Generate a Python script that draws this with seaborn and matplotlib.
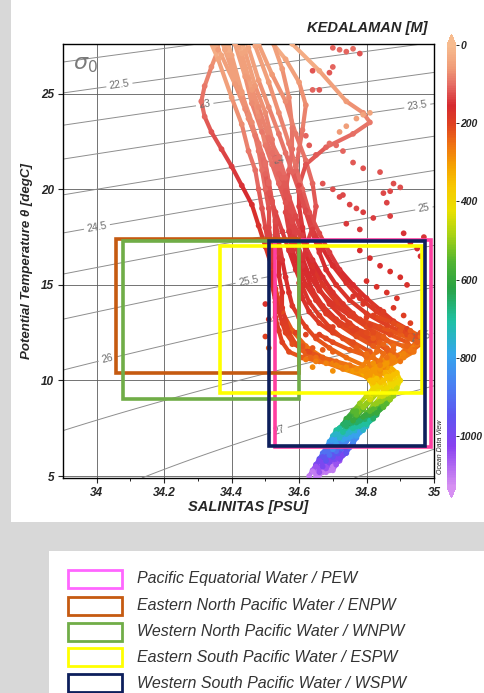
import numpy as np
import pandas as pd
import matplotlib
matplotlib.use("Agg")
import matplotlib.pyplot as plt
from matplotlib.colors import LinearSegmentedColormap, Normalize
from matplotlib.collections import LineCollection
from matplotlib.patches import Rectangle
from matplotlib.cm import ScalarMappable
import seaborn as sns

# ---------------------------------------------------------------- data
# standard sampling depths (m) of the upper casts
upper_depth = [0, 20, 40, 60, 75, 90, 100, 110, 120, 130, 140, 150, 160, 170,
               180, 190, 200, 215, 230, 250, 270, 300]

upper_sal = [
    [34.35, 34.35, 34.36, 34.36, 34.34, 34.32, 34.31, 34.32, 34.34, 34.37, 34.40,
     34.43, 34.46, 34.48, 34.50, 34.52, 34.53, 34.55, 34.58, 34.62, 34.67, 34.74],
    [34.37, 34.38, 34.40, 34.43, 34.45, 34.48, 34.50, 34.51, 34.52, 34.53, 34.54,
     34.55, 34.56, 34.57, 34.58, 34.60, 34.62, 34.65, 34.69, 34.74, 34.79, 34.83],
    [34.41, 34.42, 34.44, 34.47, 34.50, 34.52, 34.53, 34.55, 34.57, 34.59, 34.61,
     34.62, 34.64, 34.66, 34.69, 34.73, 34.77, 34.82, 34.86, 34.87, 34.86, 34.84],
    [34.46, 34.50, 34.56, 34.60, 34.62, 34.61, 34.60, 34.59, 34.60, 34.62, 34.64,
     34.66, 34.68, 34.71, 34.75, 34.80, 34.86, 34.92, 34.95, 34.92, 34.88, 34.84],
    [34.43, 34.45, 34.48, 34.52, 34.56, 34.59, 34.62, 34.64, 34.65, 34.64, 34.62,
     34.61, 34.60, 34.61, 34.63, 34.66, 34.70, 34.76, 34.81, 34.83, 34.82, 34.81],
    [34.52, 34.58, 34.66, 34.74, 34.79, 34.81, 34.76, 34.68, 34.62, 34.60, 34.60,
     34.61, 34.62, 34.64, 34.67, 34.71, 34.75, 34.80, 34.85, 34.88, 34.87, 34.84],
    [34.32, 34.33, 34.36, 34.40, 34.43, 34.45, 34.47, 34.48, 34.49, 34.50, 34.51,
     34.52, 34.52, 34.53, 34.54, 34.55, 34.56, 34.58, 34.61, 34.65, 34.70, 34.76],
    [34.39, 34.40, 34.42, 34.45, 34.48, 34.51, 34.54, 34.56, 34.57, 34.58, 34.59,
     34.61, 34.63, 34.66, 34.70, 34.75, 34.81, 34.87, 34.92, 34.94, 34.91, 34.86],
    [34.35, 34.36, 34.38, 34.42, 34.45, 34.48, 34.50, 34.51, 34.52, 34.53, 34.53,
     34.54, 34.54, 34.55, 34.55, 34.56, 34.57, 34.59, 34.62, 34.67, 34.73, 34.80],
    [34.44, 34.45, 34.47, 34.51, 34.54, 34.57, 34.59, 34.61, 34.63, 34.66, 34.69,
     34.72, 34.76, 34.80, 34.84, 34.88, 34.92, 34.95, 34.96, 34.93, 34.88, 34.84],
    [34.38, 34.39, 34.41, 34.44, 34.46, 34.49, 34.52, 34.54, 34.56, 34.57, 34.58,
     34.60, 34.62, 34.64, 34.67, 34.71, 34.76, 34.81, 34.86, 34.89, 34.87, 34.83],
    [34.36, 34.37, 34.39, 34.43, 34.46, 34.48, 34.49, 34.50, 34.51, 34.51, 34.52,
     34.52, 34.52, 34.53, 34.53, 34.54, 34.55, 34.57, 34.61, 34.66, 34.71, 34.77],
    [34.40, 34.41, 34.43, 34.46, 34.48, 34.50, 34.52, 34.54, 34.56, 34.58, 34.61,
     34.64, 34.67, 34.70, 34.73, 34.76, 34.79, 34.82, 34.84, 34.83, 34.80, 34.78],
    [34.47, 34.49, 34.52, 34.55, 34.57, 34.58, 34.58, 34.57, 34.56, 34.56, 34.57,
     34.58, 34.60, 34.62, 34.65, 34.68, 34.72, 34.77, 34.82, 34.85, 34.84, 34.82],
    [34.33, 34.34, 34.37, 34.41, 34.44, 34.47, 34.49, 34.50, 34.51, 34.53, 34.55,
     34.57, 34.59, 34.61, 34.63, 34.66, 34.69, 34.73, 34.77, 34.80, 34.81, 34.80],
    [34.42, 34.43, 34.45, 34.48, 34.51, 34.54, 34.56, 34.58, 34.60, 34.62, 34.64,
     34.67, 34.70, 34.74, 34.78, 34.83, 34.88, 34.93, 34.95, 34.91, 34.87, 34.85],
]

upper_temp = [
    [29.0, 28.6, 28.0, 27.3, 26.4, 25.4, 24.6, 23.8, 23.0, 22.1, 21.2,
     20.2, 19.2, 18.1, 17.0, 15.9, 14.8, 13.6, 12.6, 11.8, 11.2, 10.6],
    [28.8, 28.2, 27.0, 25.1, 23.7, 22.3, 21.3, 20.3, 19.3, 18.3, 17.3,
     16.3, 15.4, 14.6, 13.9, 13.3, 12.8, 12.2, 11.7, 11.2, 10.8, 10.4],
    [28.9, 28.3, 27.2, 25.4, 24.0, 22.6, 21.6, 20.6, 19.6, 18.6, 17.6,
     16.6, 15.7, 14.8, 14.0, 13.3, 12.7, 12.1, 11.6, 11.1, 10.7, 10.3],
    [28.9, 28.1, 26.8, 25.6, 24.4, 23.1, 22.1, 21.0, 19.9, 18.8, 17.7,
     16.7, 15.8, 15.0, 14.2, 13.5, 12.9, 12.4, 12.0, 11.6, 11.1, 10.6],
    [28.7, 28.3, 27.6, 26.0, 24.6, 22.9, 21.5, 20.3, 19.1, 18.0, 17.0,
     16.0, 15.1, 14.3, 13.6, 13.0, 12.5, 12.0, 11.5, 11.0, 10.7, 10.3],
    [28.5, 27.6, 26.2, 24.6, 24.0, 23.5, 22.9, 22.2, 21.3, 20.2, 19.1,
     18.0, 17.0, 16.0, 15.0, 14.1, 13.4, 12.8, 12.3, 11.8, 11.3, 10.8],
    [28.6, 28.0, 26.8, 24.8, 23.4, 22.0, 21.0, 20.0, 19.0, 18.0, 17.0,
     16.0, 15.1, 14.3, 13.6, 13.0, 12.5, 12.0, 11.6, 11.2, 10.9, 10.5],
    [29.0, 28.4, 27.4, 25.8, 24.3, 22.7, 21.7, 20.6, 19.5, 18.4, 17.4,
     16.4, 15.5, 14.7, 14.0, 13.4, 12.9, 12.4, 12.0, 11.6, 11.2, 10.7],
    [28.8, 28.3, 27.3, 25.3, 23.9, 22.4, 21.4, 20.4, 19.4, 18.4, 17.4,
     16.4, 15.5, 14.6, 13.8, 13.1, 12.5, 11.9, 11.4, 11.0, 10.6, 10.2],
    [28.9, 28.4, 27.5, 25.6, 24.0, 22.4, 21.2, 20.0, 18.8, 17.7, 16.7,
     15.8, 15.0, 14.3, 13.7, 13.1, 12.7, 12.3, 11.9, 11.5, 11.0, 10.5],
    [29.0, 28.5, 27.6, 25.9, 24.5, 23.0, 21.9, 20.8, 19.7, 18.6, 17.5,
     16.5, 15.6, 14.7, 13.9, 13.2, 12.6, 12.1, 11.7, 11.3, 10.9, 10.5],
    [28.7, 28.1, 27.0, 25.0, 23.5, 22.0, 21.0, 20.0, 19.0, 18.0, 17.0,
     16.0, 15.0, 14.1, 13.3, 12.6, 12.0, 11.5, 11.2, 11.0, 10.8, 10.5],
    [28.8, 28.2, 27.1, 25.2, 23.8, 22.3, 21.3, 20.3, 19.3, 18.3, 17.3,
     16.3, 15.4, 14.6, 14.0, 13.5, 13.0, 12.5, 12.0, 11.5, 11.0, 10.6],
    [29.1, 28.6, 27.8, 26.3, 24.8, 23.2, 22.1, 21.0, 19.9, 18.8, 17.8,
     16.8, 15.9, 15.0, 14.2, 13.5, 12.9, 12.3, 11.8, 11.4, 11.0, 10.6],
    [28.4, 27.9, 27.0, 25.5, 24.2, 22.8, 21.8, 20.8, 19.8, 18.8, 17.8,
     16.8, 15.8, 14.9, 14.1, 13.4, 12.8, 12.2, 11.7, 11.2, 10.8, 10.4],
    [28.9, 28.4, 27.4, 25.7, 24.3, 22.9, 21.9, 20.9, 19.9, 18.9, 17.9,
     16.9, 16.0, 15.1, 14.3, 13.6, 13.0, 12.4, 11.9, 11.5, 11.1, 10.7],
]

# short casts through the salinity-maximum layer
mid_depth = [200, 215, 230, 245, 260, 275, 290]
mid_sal = [
    [34.78, 34.84, 34.90, 34.95, 34.93, 34.88, 34.82],
    [34.74, 34.80, 34.86, 34.91, 34.94, 34.90, 34.85],
    [34.66, 34.70, 34.75, 34.80, 34.84, 34.85, 34.84],
    [34.60, 34.63, 34.67, 34.71, 34.75, 34.78, 34.80],
    [34.82, 34.88, 34.93, 34.96, 34.95, 34.91, 34.86],
]
mid_temp = [
    [13.2, 12.8, 12.4, 12.0, 11.6, 11.2, 10.9],
    [12.9, 12.5, 12.1, 11.8, 11.5, 11.1, 10.8],
    [12.4, 12.0, 11.6, 11.3, 11.0, 10.7, 10.5],
    [11.8, 11.5, 11.2, 11.0, 10.8, 10.6, 10.4],
    [13.4, 13.0, 12.6, 12.3, 11.9, 11.4, 11.0],
]

# sampling depths (m) of the deep casts
deep_depth = [300, 350, 400, 450, 500, 550, 600, 650, 700, 750, 800, 850,
              900, 950, 1000, 1050, 1100]

deep_sal = [
    [34.80, 34.83, 34.84, 34.83, 34.81, 34.79, 34.77, 34.75, 34.74, 34.72,
     34.71, 34.70, 34.69, 34.68, 34.67, 34.66, 34.65],
    [34.83, 34.86, 34.87, 34.87, 34.85, 34.83, 34.81, 34.79, 34.78, 34.76,
     34.75, 34.73, 34.72, 34.71, 34.70, 34.69, 34.68],
    [34.78, 34.81, 34.82, 34.80, 34.78, 34.76, 34.74, 34.73, 34.71, 34.70,
     34.69, 34.68, 34.67, 34.66, 34.65, 34.64, 34.63],
    [34.85, 34.88, 34.89, 34.88, 34.86, 34.84, 34.82, 34.80, 34.79, 34.77,
     34.76, 34.74, 34.73, 34.72, 34.71, 34.70, 34.69],
    [34.81, 34.84, 34.85, 34.84, 34.82, 34.80, 34.78, 34.76, 34.75, 34.73,
     34.72, 34.71, 34.70, 34.69, 34.68, 34.67, 34.66],
    [34.79, 34.82, 34.83, 34.82, 34.80, 34.77, 34.75, 34.74, 34.72, 34.71,
     34.70, 34.69, 34.68, 34.67, 34.66, 34.65, 34.64],
    [34.84, 34.87, 34.88, 34.86, 34.84, 34.82, 34.80, 34.78, 34.77, 34.75,
     34.74, 34.72, 34.71, 34.70, 34.69, 34.68, 34.67],
    [34.82, 34.85, 34.86, 34.85, 34.83, 34.81, 34.79, 34.77, 34.76, 34.74,
     34.73, 34.72, 34.71, 34.70, 34.69, 34.68, 34.66],
    [34.86, 34.89, 34.90, 34.89, 34.88, 34.86, 34.84, 34.83, 34.81, 34.80,
     34.78, 34.77, 34.76, 34.74, 34.73, 34.72, 34.70],
    [34.84, 34.87, 34.88, 34.88, 34.87, 34.85, 34.83, 34.82, 34.80, 34.79,
     34.77, 34.76, 34.75, 34.74, 34.72, 34.71, 34.70],
    [34.80, 34.82, 34.82, 34.81, 34.79, 34.77, 34.76, 34.74, 34.73, 34.72,
     34.71, 34.70, 34.69, 34.68, 34.67, 34.66, 34.65],
]

deep_temp = [
    [10.6, 10.1, 9.7, 9.3, 8.9, 8.5, 8.1, 7.8, 7.5, 7.2, 6.9, 6.6, 6.3, 6.0, 5.7, 5.4, 5.1],
    [10.7, 10.2, 9.8, 9.4, 9.0, 8.6, 8.2, 7.9, 7.6, 7.3, 7.0, 6.7, 6.4, 6.1, 5.8, 5.5, 5.2],
    [10.5, 10.0, 9.6, 9.2, 8.8, 8.4, 8.0, 7.7, 7.4, 7.1, 6.8, 6.5, 6.2, 5.9, 5.6, 5.3, 5.0],
    [10.8, 10.3, 9.9, 9.5, 9.1, 8.7, 8.3, 8.0, 7.7, 7.4, 7.1, 6.8, 6.5, 6.2, 5.9, 5.6, 5.3],
    [10.4, 9.9, 9.5, 9.1, 8.7, 8.3, 8.0, 7.7, 7.4, 7.1, 6.8, 6.5, 6.2, 5.9, 5.6, 5.3, 5.05],
    [10.5, 10.0, 9.7, 9.3, 8.8, 8.4, 8.1, 7.8, 7.5, 7.2, 6.9, 6.6, 6.3, 6.0, 5.8, 5.5, 5.25],
    [10.6, 10.1, 9.7, 9.3, 8.9, 8.5, 8.2, 7.9, 7.6, 7.3, 7.0, 6.7, 6.4, 6.1, 5.8, 5.5, 5.2],
    [10.5, 10.0, 9.6, 9.2, 8.8, 8.4, 8.1, 7.8, 7.5, 7.2, 6.9, 6.6, 6.3, 6.0, 5.7, 5.4, 5.1],
    [10.9, 10.4, 10.0, 9.6, 9.2, 8.8, 8.5, 8.2, 7.9, 7.6, 7.3, 7.0, 6.7, 6.4, 6.1, 5.8, 5.5],
    [10.7, 10.2, 9.8, 9.4, 9.0, 8.6, 8.3, 8.0, 7.7, 7.4, 7.1, 6.8, 6.5, 6.2, 5.9, 5.6, 5.3],
    [10.3, 9.9, 9.5, 9.0, 8.6, 8.2, 7.9, 7.6, 7.3, 7.0, 6.7, 6.4, 6.1, 5.8, 5.5, 5.2, 4.95],
]

# isolated bottle samples
bottle_sal = [
    34.70, 34.72, 34.74, 34.76, 34.78, 34.69, 34.70, 34.64, 34.64, 34.66,
    34.79, 34.81, 34.77, 34.74, 34.72,
    34.62, 34.63, 34.65, 34.69, 34.71, 34.73, 34.76, 34.79, 34.84, 34.88,
    34.90, 34.87, 34.67, 34.70, 34.73,
    34.72, 34.75, 34.77, 34.79, 34.82, 34.85, 34.86, 34.87, 34.74, 34.78,
    34.91, 34.93, 34.95, 34.97, 34.96,
    34.78, 34.81, 34.84, 34.87, 34.90, 34.92, 34.80, 34.83, 34.86, 34.89,
    34.76, 34.79,
    34.78, 34.82, 34.85, 34.88, 34.91, 34.93, 34.80, 34.75, 34.70,
    34.90, 34.93, 34.95, 34.96, 34.92, 34.88, 34.85, 34.82, 34.80, 34.86,
    34.90, 34.84,
    34.62, 34.65, 34.68, 34.71, 34.74, 34.77, 34.64, 34.70,
    34.56, 34.59, 34.62, 34.65, 34.68, 34.58, 34.61, 34.64, 34.67, 34.70,
    34.50, 34.51, 34.50, 34.51,
]
bottle_temp = [
    27.4, 27.3, 27.2, 27.35, 27.1, 26.1, 26.4, 26.2, 25.2, 25.2,
    23.9, 24.0, 23.7, 23.3, 23.0,
    22.8, 22.3, 21.8, 22.4, 22.3, 22.0, 21.4, 21.1, 20.9, 20.3,
    20.1, 19.9, 20.3, 20.0, 19.7,
    19.6, 19.2, 19.0, 18.8, 18.5, 19.8, 19.3, 18.6, 18.2, 17.9,
    17.7, 17.2, 16.9, 17.5, 16.5,
    16.8, 16.4, 16.0, 15.7, 15.4, 15.0, 15.2, 14.9, 14.6, 14.3,
    14.4, 14.0,
    14.5, 13.9, 13.6, 13.8, 13.4, 13.0, 13.3, 13.0, 12.8,
    12.6, 12.3, 12.0, 12.5, 11.8, 11.6, 11.9, 12.2, 11.4, 11.2,
    11.0, 10.8,
    11.1, 11.0, 10.9, 10.8, 10.7, 10.6, 10.7, 10.5,
    12.6, 12.5, 12.4, 12.3, 12.2, 11.9, 11.8, 11.7, 11.6, 11.5,
    14.0, 13.2, 12.3, 11.7,
]
bottle_depth = [
    110, 105, 110, 100, 120, 115, 110, 120, 110, 115,
    45, 40, 50, 55, 60,
    110, 115, 115, 100, 105, 110, 115, 120, 120, 125,
    125, 130, 120, 125, 130,
    130, 135, 130, 140, 140, 130, 135, 140, 145, 145,
    150, 150, 155, 150, 155,
    155, 160, 160, 165, 165, 170, 170, 170, 175, 175,
    175, 180,
    175, 185, 190, 185, 195, 200, 195, 200, 200,
    225, 230, 235, 225, 240, 245, 240, 230, 250, 255,
    260, 270,
    260, 265, 270, 275, 280, 285, 280, 290,
    200, 205, 205, 210, 210, 220, 225, 225, 230, 235,
    170, 185, 200, 230,
]

# water-mass boxes: (S min, S max, theta min, theta max)
mass_names = ["Pacific Equatorial Water / PEW",
              "Eastern North Pacific Water / ENPW",
              "Western North Pacific Water / WNPW",
              "Eastern South Pacific Water / ESPW",
              "Western South Pacific Water / WSPW"]
mass_sal_min = [34.53, 34.056, 34.077, 34.365, 34.51]
mass_sal_max = [34.99, 34.60, 34.60, 34.963, 34.972]
mass_temp_min = [6.52, 10.40, 9.04, 9.35, 6.58]
mass_temp_max = [17.35, 17.40, 17.30, 17.05, 17.28]
mass_colors = ["#ff3fa0", "#c55a11", "#70ad47", "#ffff00", "#0d1f5c"]
legend_colors = ["#ff66ff", "#c55a11", "#70ad47", "#ffff00", "#0d1f5c"]

sigma_plain = [22.0, 27.5]
sigma_labelled = [22.5, 23.0, 23.5, 24.0, 24.5, 25.0, 25.5, 26.0, 26.5, 27.0]
sigma_label_pos = [(34.07, 25.1), (34.32, 24.45), (34.95, 24.4), (34.54, 21.6),
                   (34.00, 18.1), (34.97, 19.0), (34.45, 15.2), (34.03, 11.2),
                   (34.96, 12.4), (34.54, 7.5)]

sal_ticks = [34.0, 34.2, 34.4, 34.6, 34.8, 35.0]
sal_tick_labels = ["34", "34.2", "34.4", "34.6", "34.8", "35"]
temp_ticks = [5, 10, 15, 20, 25]
depth_ticks = [0, 200, 400, 600, 800, 1000]

# ---------------------------------------------------------------- tables
frames = []
for tag, dep, sal_sets, temp_sets in (("u", upper_depth, upper_sal, upper_temp),
                                      ("m", mid_depth, mid_sal, mid_temp),
                                      ("d", deep_depth, deep_sal, deep_temp)):
    for c, (ss, tt) in enumerate(zip(sal_sets, temp_sets)):
        frames.append(pd.DataFrame({"cast": f"{tag}{c}", "sal": ss,
                                    "temp": tt, "depth": dep}))
casts = pd.concat(frames, ignore_index=True)
bottles = pd.DataFrame({"sal": bottle_sal, "temp": bottle_temp,
                        "depth": bottle_depth})
points = pd.concat([casts.drop(columns="cast"), bottles], ignore_index=True)

# ---------------------------------------------------------------- style
depth_cmap = LinearSegmentedColormap.from_list("odv_depth", [
    (0.000, "#f7bb8e"), (0.050, "#f09c78"), (0.090, "#e56a63"),
    (0.135, "#d62a30"), (0.180, "#df4220"), (0.225, "#ef7312"),
    (0.275, "#f5a400"), (0.320, "#f7c800"), (0.375, "#e9e000"),
    (0.430, "#a8d214"), (0.490, "#52b432"), (0.550, "#2aa244"),
    (0.625, "#1fc1a4"), (0.700, "#35a6ec"), (0.770, "#4a80f2"),
    (0.840, "#5e55f0"), (0.910, "#8a42f0"), (1.000, "#d690f2")])
depth_norm = Normalize(0, 1130)

sns.set_style("ticks")
plt.rcParams["font.family"] = ["Liberation Sans", "DejaVu Sans"]
plt.rcParams["mathtext.fontset"] = "dejavusans"

W, H = 485, 693
fig = plt.figure(figsize=(W / 100, H / 100), dpi=100, facecolor="#d8d8d8")


def fx(px):
    return px / W


def fy(py):
    return 1 - py / H


# white panels behind the chart and the key
fig.patches.append(Rectangle((fx(11), fy(522)), fx(474), 522 / H,
                             transform=fig.transFigure, facecolor="white",
                             edgecolor="none", zorder=-10))
fig.patches.append(Rectangle((fx(49), 0), fx(436), (693 - 551) / H,
                             transform=fig.transFigure, facecolor="white",
                             edgecolor="none", zorder=-10))

ax = fig.add_axes([fx(63), fy(478), (434 - 63) / W, (478 - 44) / H])
ax.set_facecolor("white")


def sigma0(s, t):
    """Potential density anomaly at the surface (EOS-80)."""
    rho_w = (999.842594 + 6.793952e-2 * t - 9.095290e-3 * t ** 2
             + 1.001685e-4 * t ** 3 - 1.120083e-6 * t ** 4 + 6.536332e-9 * t ** 5)
    a = (8.24493e-1 - 4.0899e-3 * t + 7.6438e-5 * t ** 2
         - 8.2467e-7 * t ** 3 + 5.3875e-9 * t ** 4)
    b = -5.72466e-3 + 1.0227e-4 * t - 1.6546e-6 * t ** 2
    c = 4.8314e-4
    return rho_w + a * s + b * s ** 1.5 + c * s ** 2 - 1000.0


sg, tg = np.meshgrid(np.linspace(33.9, 35.0, 240), np.linspace(4.9, 27.6, 240))
sig = sigma0(sg, tg)
ax.contour(sg, tg, sig, levels=sigma_plain, colors="#8e8e8e",
           linewidths=0.7, zorder=1)
cs = ax.contour(sg, tg, sig, levels=sigma_labelled, colors="#8e8e8e",
                linewidths=0.7, zorder=1)
ax.clabel(cs, manual=sigma_label_pos, fmt="%g", fontsize=7.5,
          colors="#6e6e6e", inline=True, inline_spacing=3)

# profiles: coloured traces joining the samples of each cast
for _, cast in casts.groupby("cast", sort=False):
    xy = cast[["sal", "temp"]].to_numpy()
    dep = cast["depth"].to_numpy()
    segs = np.stack([xy[:-1], xy[1:]], axis=1)
    lc = LineCollection(segs, colors=depth_cmap(depth_norm((dep[:-1] + dep[1:]) / 2)),
                        linewidths=3.0, capstyle="round", zorder=2)
    ax.add_collection(lc)

sns.scatterplot(data=points, x="sal", y="temp", hue="depth", palette=depth_cmap,
                hue_norm=depth_norm, s=17, linewidth=0, legend=False, ax=ax,
                zorder=3)

for s0, s1, t0, t1, col in zip(mass_sal_min, mass_sal_max, mass_temp_min,
                               mass_temp_max, mass_colors):
    ax.add_patch(Rectangle((s0, t0), s1 - s0, t1 - t0, fill=False,
                           edgecolor=col, linewidth=2.6, zorder=5))

ax.set_xlim(33.9, 35.0)
ax.set_ylim(4.9, 27.6)
ax.set_xticks(sal_ticks)
ax.set_xticklabels(sal_tick_labels)
ax.set_xticks([34.1, 34.3, 34.5, 34.7, 34.9], minor=True)
ax.set_yticks(temp_ticks)
ax.grid(True, which="major", color="#5c5c5c", linewidth=0.6, zorder=0)
ax.set_axisbelow(True)
for sp in ax.spines.values():
    sp.set_linewidth(1.0)
    sp.set_color("black")
ax.tick_params(axis="both", which="major", length=3.5, width=0.8, pad=3,
               labelsize=8.5, direction="out")
ax.tick_params(axis="x", which="minor", length=2.5, width=0.7)
for lab in ax.get_xticklabels() + ax.get_yticklabels():
    lab.set_fontweight("bold")
    lab.set_fontstyle("italic")
ax.set_xlabel("SALINITAS [PSU]", fontsize=10.5, fontweight="bold",
              fontstyle="italic", labelpad=1)
ax.set_ylabel("Potential Temperature θ [degC]", fontsize=9.5,
              fontweight="bold", fontstyle="italic", labelpad=6)

fig.text(fx(73), fy(65), r"$\sigma_0$", fontsize=16, color="#7a7a7a",
         va="center", ha="left")
fig.text(fx(441), fy(447), "Ocean Data View", rotation=90, fontsize=5,
         fontstyle="italic", ha="center", va="center", color="#222222")

# depth colour bar
cax = fig.add_axes([fx(447), fy(498), 9 / W, (498 - 34) / H])
cb = fig.colorbar(ScalarMappable(norm=depth_norm, cmap=depth_cmap), cax=cax,
                  extend="both", extendfrac=0.025, ticks=depth_ticks)
cb.ax.invert_yaxis()
cb.outline.set_visible(False)
cb.ax.tick_params(length=2.0, width=0.7, pad=1.0, labelsize=7.5)
for lab in cb.ax.get_yticklabels():
    lab.set_fontweight("bold")
    lab.set_fontstyle("italic")
fig.text(fx(428), fy(28), "KEDALAMAN [M]", fontsize=10.5, fontweight="bold",
         fontstyle="italic", ha="right", va="center")

# key of water masses
row_y = [579, 606, 632, 657, 683]
for name, col, ry in zip(mass_names, legend_colors, row_y):
    fig.patches.append(Rectangle((fx(68), fy(ry + 9)), 54 / W, 18 / H,
                                 transform=fig.transFigure, facecolor="white",
                                 edgecolor=col, linewidth=2.0, zorder=2))
    fig.text(fx(137), fy(ry), name, fontsize=11.5, fontstyle="italic",
             color="#333333", ha="left", va="center")

fig.savefig("out.png", dpi=100, facecolor=fig.get_facecolor())
